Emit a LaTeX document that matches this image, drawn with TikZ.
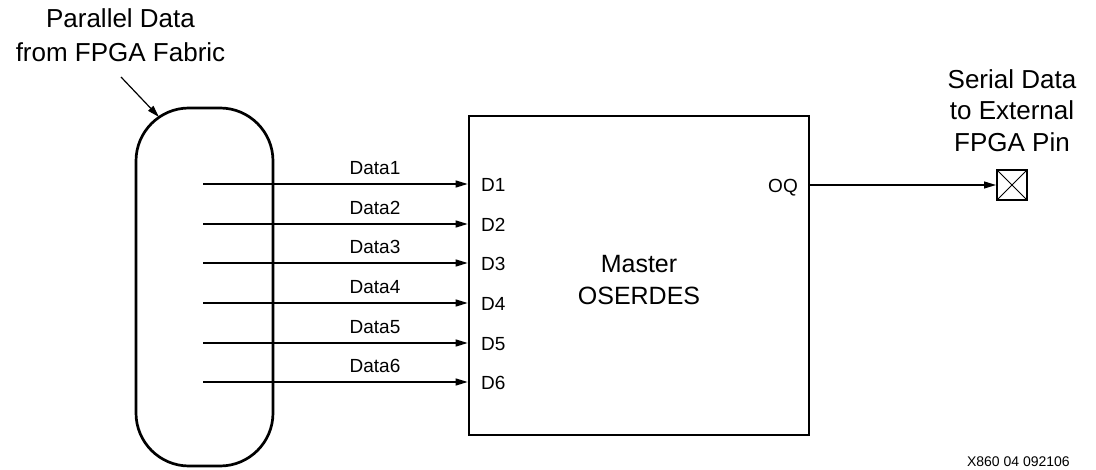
\documentclass[tikz,border=0pt]{standalone}
\usepackage{fontspec}
\setmainfont{Liberation Sans}
\usetikzlibrary{arrows.meta}
\begin{document}
\begin{tikzpicture}[x=1pt,y=-1pt,
  lbl/.style={font=\fontsize{19}{23}\selectfont, inner sep=0pt},
  big/.style={font=\fontsize{26}{31}\selectfont, inner sep=0pt, anchor=base},
  mid/.style={font=\fontsize{25}{30}\selectfont, inner sep=0pt, anchor=base},
  sig/.style={line width=1.2pt, -{Triangle[length=12pt,width=7pt]}},
  thick box/.style={draw, line width=2.7pt}
]
\useasboundingbox (0,0) rectangle (1096,470);
% capsule (parallel data bus)
\node[thick box, rounded corners=53pt, minimum width=137pt, minimum height=358pt, inner sep=0pt] (bus) at (204.5,287) {};
% OSERDES block
\node[thick box, minimum width=340pt, minimum height=319pt, inner sep=0pt] (oser) at (639,275.5) {};
\node[mid] (m1) at (639,273) {Master};
\node[mid] (m2) at (639,305) {OSERDES};
% title
\node[big] (t1) at (120.5,28) {Parallel Data};
\node[big] (t2) at (120.5,62) {from FPGA Fabric};
\coordinate (ptail) at (121,77);
\coordinate (ptip) at (159,117);
\draw[line width=1.2pt, -{Triangle[length=12pt,width=7pt]}] (ptail) -- (ptip);
% data lines
\foreach \i/\y in {1/184,2/224,3/263,4/303,5/343,6/382}{
  \coordinate (s\i) at (203,\y);
  \draw[sig] (s\i) -- (s\i -| oser.west);
  \node[lbl, anchor=base] (dl\i) at (375,\y-9) {Data\i};
  \node[lbl, anchor=base west] (dp\i) at (481,\y+8) {D\i};
}
% output
\node[lbl, anchor=base east] (oq) at (798,193) {OQ};
\node[draw, line width=2pt, minimum size=30pt, inner sep=0pt, outer sep=0pt] (pin) at (1012,185) {};
\draw[line width=0.8pt] (pin.north west) -- (pin.south east);
\draw[line width=0.8pt] (pin.south west) -- (pin.north east);
\coordinate (qo) at (oser.east |- pin.west);
\draw[sig] (qo) -- ([xshift=-1pt]pin.west);
\node[big] (r1) at (1012,89) {Serial Data};
\node[big] (r2) at (1012,120) {to External};
\node[big] (r3) at (1012,152) {FPGA Pin};
% footer
\node[font=\fontsize{14}{17}\selectfont, inner sep=0pt, anchor=base east] (ft) at (1070,467) {X860 04 092106};
\end{tikzpicture}
\end{document}
